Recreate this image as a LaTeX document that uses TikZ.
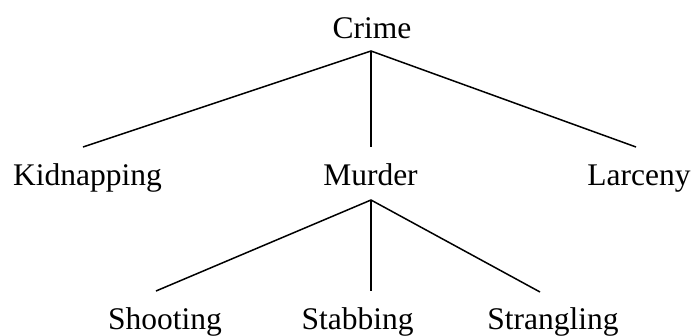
\documentclass[tikz,border=0pt]{standalone}
\usepackage{fontspec}
\setmainfont{Liberation Serif}
\begin{document}
\begin{tikzpicture}[x=1pt,y=-1pt,
  lbl/.style={anchor=base,inner sep=0pt,font=\fontsize{31.5}{36}\selectfont},
  edge/.style={line width=1.5pt,line cap=butt}]
\useasboundingbox (0,0) rectangle (694,335);
% labels
\node[lbl] (crime) at (372,38) {Crime};
\node[lbl] (kid) at (87.5,185) {Kidnapping};
\node[lbl] (mur) at (370.5,185) {Murder};
\node[lbl] (lar) at (639,185) {Larceny};
\node[lbl] (sho) at (165,329) {Shooting};
\node[lbl] (sta) at (357.5,329) {Stabbing};
\node[lbl] (str) at (553,329) {Strangling};
% connector end points
\coordinate (crimeT) at (371,51);
\coordinate (kidT) at (83,147);
\coordinate (murT) at (371,147);
\coordinate (larT) at (636,147);
\coordinate (murB) at (371,200);
\coordinate (shoT) at (156,291);
\coordinate (staT) at (371,291);
\coordinate (strT) at (540,292);
% connectors
\draw[edge] (kidT) -- (crimeT) -- (larT);
\draw[edge] (crimeT) -- (murT);
\draw[edge] (shoT) -- (murB) -- (strT);
\draw[edge] (murB) -- (staT);
\end{tikzpicture}
\end{document}
